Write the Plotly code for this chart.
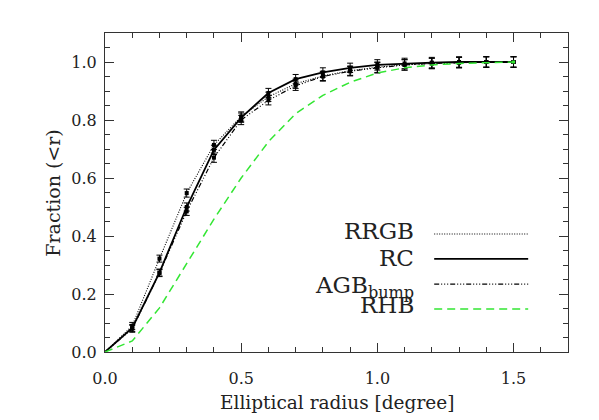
import plotly.graph_objects as go

x = [0.0, 0.1, 0.2, 0.3, 0.4, 0.5, 0.6, 0.7, 0.8, 0.9, 1.0, 1.1, 1.2, 1.3, 1.4, 1.5]
rrgb = [0.0, 0.09, 0.322, 0.548, 0.714, 0.812, 0.880, 0.925, 0.952, 0.970, 0.982, 0.990, 0.995, 0.998, 1.0, 1.0]
rc = [0.0, 0.083, 0.274, 0.500, 0.697, 0.808, 0.893, 0.941, 0.964, 0.980, 0.990, 0.995, 0.998, 1.0, 1.0, 1.0]
agb = [0.0, 0.080, 0.272, 0.485, 0.670, 0.800, 0.868, 0.918, 0.950, 0.968, 0.980, 0.990, 0.995, 0.998, 1.0, 1.0]
rhb = [0.0, 0.038, 0.152, 0.305, 0.458, 0.600, 0.725, 0.822, 0.885, 0.930, 0.962, 0.980, 0.990, 0.995, 0.998, 1.0]
err = [0.0, 0.012, 0.012, 0.014, 0.016, 0.016, 0.016, 0.016, 0.016, 0.016, 0.018, 0.018, 0.018, 0.018, 0.018, 0.018]

names = ["RRGB", "RC", "AGB<sub>bump</sub>", "RHB"]
x_title = "Elliptical radius [degree]"
y_title = "Fraction (&lt;r)"
GREEN = "#33e633"
INK = "#222222"
FONT = "DejaVu Serif"

fig = go.Figure()

series = [
    (rrgb, "black", "1px,1.5px", 1.1, True),
    (rc, "black", "solid", 1.8, True),
    (agb, "black", "5px,2px,1px,2px,1px,2px,1px,2px", 1.2, True),
    (rhb, GREEN, "8px,5px", 1.5, False),
]

for ys, col, dash, w, with_err in series:
    fig.add_trace(go.Scatter(x=x, y=ys, mode="lines",
                             line=dict(color=col, dash=dash, width=w),
                             showlegend=False, hoverinfo="skip"))
    if with_err:
        fig.add_trace(go.Scatter(x=x[1:], y=ys[1:], mode="markers",
                                 marker=dict(symbol="square", size=4, color=col),
                                 error_y=dict(type="data", array=err[1:], visible=True,
                                              color=col, thickness=1, width=3),
                                 showlegend=False, hoverinfo="skip"))
    else:
        fig.add_trace(go.Scatter(x=[x[-1]], y=[ys[-1]], mode="markers",
                                 marker=dict(symbol="square", size=3, color=col),
                                 showlegend=False, hoverinfo="skip"))

# Legend (text on left, line sample on right)
text_y = [0.379, 0.294, 0.205, 0.147]
line_y = [0.370, 0.292, 0.213, 0.135]
for i, (nm, (ys, col, dash, w, _)) in enumerate(zip(names, series)):
    fig.add_annotation(x=0.672, y=text_y[i], xref="paper", yref="paper", text=nm,
                       showarrow=False, xanchor="right", yanchor="middle",
                       font=dict(family=FONT, size=23, color=INK))
    fig.add_shape(type="line", xref="paper", yref="paper",
                  x0=0.711, x1=0.914, y0=line_y[i], y1=line_y[i],
                  line=dict(color=col, dash=dash, width=w))

# Axis titles
fig.add_annotation(x=0.5, y=-0.158, xref="paper", yref="paper", text=x_title,
                   showarrow=False, xanchor="center", yanchor="middle",
                   font=dict(family=FONT, size=18.5, color=INK))
fig.add_annotation(x=-0.114, y=0.5, xref="paper", yref="paper", text=y_title,
                   showarrow=False, xanchor="center", yanchor="middle", textangle=-90,
                   font=dict(family=FONT, size=19, color=INK))

axis_common = dict(
    showgrid=False, zeroline=False, showline=True, linecolor="#333", linewidth=1.2,
    mirror="allticks", ticks="inside", tickcolor="#333", tickwidth=1,
    tickfont=dict(family=FONT, size=16, color=INK),
)

fig.update_xaxes(range=[0, 1.7], dtick=0.5, tickformat=".1f", ticklen=9,
                 ticklabelstandoff=12,
                 minor=dict(ticks="inside", dtick=0.1, ticklen=5, tickcolor="#333"),
                 **axis_common)
fig.update_yaxes(range=[0, 1.1], dtick=0.2, tickformat=".1f", ticklen=9,
                 ticklabelstandoff=4,
                 minor=dict(ticks="inside", dtick=0.05, ticklen=5, tickcolor="#333"),
                 **axis_common)

fig.update_layout(width=599, height=420, plot_bgcolor="white", paper_bgcolor="white",
                  margin=dict(l=97, r=39, t=25, b=76, autoexpand=False), showlegend=False)

fig.write_html("out.html")
